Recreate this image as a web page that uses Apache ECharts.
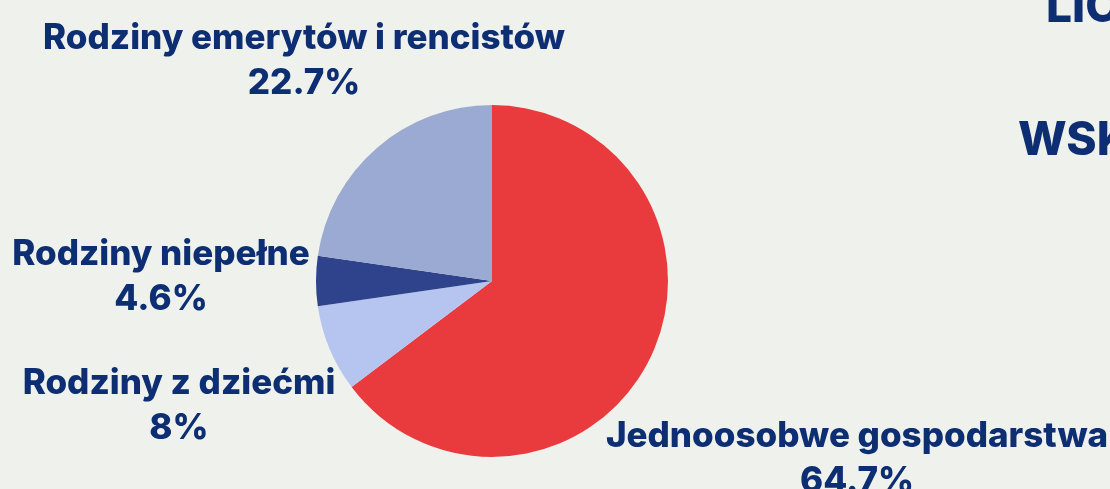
<!DOCTYPE html>
<html>
<head>
<meta charset="utf-8">
<style>
html,body{margin:0;padding:0;background:#eff1ec;}
#c{width:1110px;height:489px;}
</style>
<script src="https://cdn.jsdelivr.net/npm/echarts@6/dist/echarts.min.js"></script>
</head>
<body>
<div id="c"></div>
<script>
const categories = ['Jednoosobwe gospodarstwa', 'Rodziny z dziećmi', 'Rodziny niepełne', 'Rodziny emerytów i rencistów'];
const values = [64.7, 8, 4.6, 22.7];
const colors = ['#e93b3e', '#b6c5ef', '#2f438d', '#9baad2'];
const titleLines = ['LICZBA', 'WSKAŹNIK'];

const labelPos = [
  {x: 857, y: 459},
  {x: 179, y: 406},
  {x: 161, y: 277},
  {x: 304, y: 61}
];

const chart = echarts.init(document.getElementById('c'));
chart.setOption({
  backgroundColor: '#eff1ec',
  animation: false,
  graphic: [
    {type: 'text', left: 1046, top: -15, style: {text: titleLines[0], fill: '#0d2e72', font: '800 46px Inter'}},
    {type: 'text', left: 1018, top: 118, style: {text: titleLines[1], fill: '#0d2e72', font: '800 46px Inter'}}
  ],
  series: [{
    type: 'pie',
    center: [492, 281],
    radius: 176,
    startAngle: 90,
    clockwise: true,
    data: categories.map((n, i) => ({name: n, value: values[i], itemStyle: {color: colors[i]}})),
    label: {
      show: true,
      position: 'outside',
      formatter: '{b}\n{c}%',
      color: '#0d2e72',
      fontFamily: 'Inter',
      fontWeight: 800,
      fontSize: 35,
      lineHeight: 45,
      align: 'center',
      overflow: 'none',
      width: 700
    },
    labelLine: {show: false},
    labelLayout: function (p) {
      const pos = labelPos[p.dataIndex];
      return {x: pos.x, y: pos.y, align: 'center', verticalAlign: 'middle'};
    },
    emphasis: {disabled: true}
  }]
});
</script>
</body>
</html>
